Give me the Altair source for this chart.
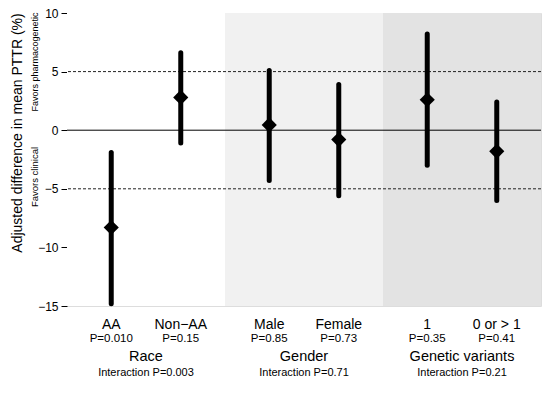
import altair as alt
import pandas as pd

categories = ["AA", "Non\u2212AA", "Male", "Female", "1", "0 or > 1"]
pvalues = ["P=0.010", "P=0.15", "P=0.85", "P=0.73", "P=0.35", "P=0.41"]
estimates = [-8.3, 2.8, 0.45, -0.8, 2.6, -1.8]
lower = [-14.8, -1.1, -4.3, -5.6, -3.0, -6.0]
upper = [-1.9, 6.6, 5.1, 3.9, 8.2, 2.4]
group_of = [0, 0, 1, 1, 2, 2]
side = [-1, 1, -1, 1, -1, 1]

groups = ["Race", "Gender", "Genetic variants"]
interactions = ["Interaction P=0.003", "Interaction P=0.71", "Interaction P=0.21"]
group_fill = ["#ffffff", "#f1f1f1", "#e3e3e3"]

ref_lines = [5, 0, -5]
ref_dash = ["dashed", "solid", "dashed"]

FONT = "Liberation Sans"
TOP = 5
W, H = 474, 298 - TOP

pts = pd.DataFrame({
    "cat": categories,
    "p": pvalues,
    "est": estimates,
    "lo": lower,
    "hi": upper,
    "x": [g * 2 + 1 + s * 0.44 for g, s in zip(group_of, side)],
})
grp = pd.DataFrame({
    "group": groups,
    "inter": interactions,
    "fill": group_fill,
    "x0": [i * 2 for i in range(3)],
    "x1": [i * 2 + 2 for i in range(3)],
    "xm": [i * 2 + 1 for i in range(3)],
})
refs = pd.DataFrame({"y": ref_lines, "kind": ref_dash})

xs = alt.Scale(domain=[0, 6], nice=False, zero=False)
ys = alt.Scale(domain=[-15, 10], nice=False, zero=False)

bg = alt.Chart(grp).mark_rect().encode(
    x=alt.X("x0:Q", scale=xs, axis=None),
    x2="x1:Q",
    y=alt.value(0),
    y2=alt.value(H),
    color=alt.Color("fill:N", scale=None),
)

axis_layer = alt.Chart(refs).mark_rule(opacity=0).encode(
    y=alt.Y("y:Q", scale=ys, axis=alt.Axis(
        values=[10, 5, 0, -5, -10, -15], title=None, domain=False, grid=False,
        tickColor="#000", tickSize=6, labelPadding=3, labelFontSize=12,
        labelFont=FONT, labelColor="#000")),
)

solid = alt.Chart(refs).transform_filter(alt.datum.kind == "solid").mark_rule(
    color="#000", strokeWidth=1).encode(y=alt.Y("y:Q", scale=ys))
dashed = alt.Chart(refs).transform_filter(alt.datum.kind == "dashed").mark_rule(
    color="#222", strokeWidth=1, strokeDash=[3, 2]).encode(y=alt.Y("y:Q", scale=ys))

bars = alt.Chart(pts).mark_rule(color="#000", strokeWidth=5, strokeCap="round").encode(
    x=alt.X("x:Q", scale=xs),
    y=alt.Y("lo:Q", scale=ys),
    y2="hi:Q",
)
diam = alt.Chart(pts).mark_point(shape="diamond", filled=True, color="#000",
                                 size=230, opacity=1).encode(
    x=alt.X("x:Q", scale=xs),
    y=alt.Y("est:Q", scale=ys),
)

cat_txt = alt.Chart(pts).mark_text(font=FONT, fontSize=14, color="#000",
                                   baseline="middle").encode(
    x=alt.X("x:Q", scale=xs), y=alt.value(325 - 8 - TOP), text="cat:N")
p_txt = alt.Chart(pts).mark_text(font=FONT, fontSize=11.5, color="#000",
                                 baseline="middle").encode(
    x=alt.X("x:Q", scale=xs), y=alt.value(339 - 8 - TOP), text="p:N")
g_txt = alt.Chart(grp).mark_text(font=FONT, fontSize=14.5, color="#000",
                                 baseline="middle").encode(
    x=alt.X("xm:Q", scale=xs), y=alt.value(357 - 8 - TOP), text="group:N")
i_txt = alt.Chart(grp).mark_text(font=FONT, fontSize=11, color="#000",
                                 baseline="middle").encode(
    x=alt.X("xm:Q", scale=xs), y=alt.value(373 - 8 - TOP), text="inter:N")

side_labels = pd.DataFrame({
    "t": ["Adjusted difference in mean PTTR (%)", "Favors pharmacogenetic", "Favors clinical"],
    "px": [18 - 67, 35 - 67, 35 - 67],
    "py": [133 - 8 - TOP, 62 - 8 - TOP, 177 - 8 - TOP],
    "fs": [14, 9, 9.5],
})
side_txt = alt.Chart(side_labels).mark_text(font=FONT, color="#000", angle=270,
                                            baseline="middle", align="center").encode(
    x=alt.X("px:Q", scale=None),
    y=alt.Y("py:Q", scale=None),
    size=alt.Size("fs:Q", scale=None, legend=None),
    text="t:N",
)

chart = alt.layer(bg, axis_layer, solid, dashed, bars, diam, cat_txt, p_txt, g_txt,
                  i_txt, side_txt).properties(
    width=W, height=H,
    autosize=alt.AutoSizeParams(type="none"),
    padding={"left": 59, "top": TOP, "right": 1, "bottom": 81},
).configure_view(stroke="#222", strokeWidth=1.5).configure(background="#ffffff")

chart.save("out.html", embed_options={"renderer": "svg", "actions": False})
